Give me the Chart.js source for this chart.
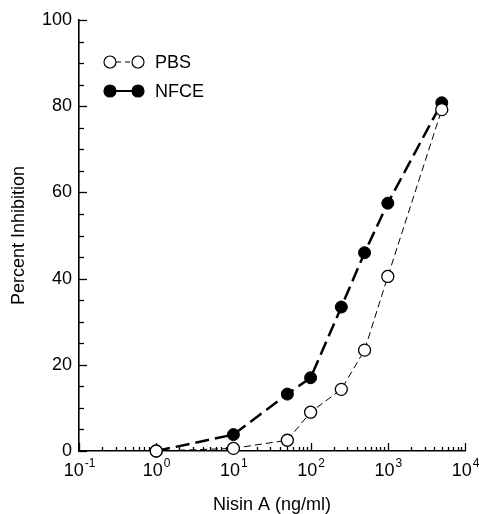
<!DOCTYPE html>
<html>
<head>
<meta charset="utf-8">
<script src="https://cdn.jsdelivr.net/npm/chart.js@4/dist/chart.umd.min.js"></script>
<style>
  body { margin: 0; background: #fff; }
  canvas { display: block; }
</style>
</head>
<body>
<canvas id="chart" width="479" height="514"></canvas>
<script>
// Data
const concentrations = [1, 10, 50, 100, 250, 500, 1000, 5000];
const pbsValues = [0, 0.6, 2.5, 9.0, 14.3, 23.4, 40.5, 79.2];
const nfceValues = [0, 3.8, 13.2, 17.0, 33.4, 46.0, 57.5, 80.8];
const xDecades = [-1, 0, 1, 2, 3, 4];
const yTicks = [0, 20, 40, 60, 80, 100];

const FONT = '"Liberation Sans", Arial, Helvetica, sans-serif';

// inward tick marks, superscript x labels and the little legend
const decorations = {
    id: 'decorations',
    beforeDatasetsDraw(chart) {
        const ctx = chart.ctx;
        const x = chart.scales.x;
        const y = chart.scales.y;
        const area = chart.chartArea;

        ctx.save();
        ctx.strokeStyle = '#000';
        ctx.lineWidth = 1.3;

        // y ticks every 5, longer at labelled values
        for (let v = 0; v <= 100; v += 5) {
            const py = Math.round(y.getPixelForValue(v)) + 0.5;
            const len = yTicks.includes(v) ? 8 : 5;
            ctx.beginPath();
            ctx.moveTo(area.left, py);
            ctx.lineTo(area.left + len, py);
            ctx.stroke();
        }

        // x ticks: decades and 2..9 between
        xDecades.forEach((d, i) => {
            const base = Math.pow(10, d);
            const px = Math.round(x.getPixelForValue(base)) + 0.5;
            ctx.beginPath();
            ctx.moveTo(px, area.bottom);
            ctx.lineTo(px, area.bottom - 8);
            ctx.stroke();
            if (i < xDecades.length - 1) {
                for (let k = 2; k <= 9; k++) {
                    const mx = Math.round(x.getPixelForValue(k * base)) + 0.5;
                    ctx.beginPath();
                    ctx.moveTo(mx, area.bottom);
                    ctx.lineTo(mx, area.bottom - 4);
                    ctx.stroke();
                }
            }
        });
        ctx.restore();
    },
    afterDraw(chart) {
        const ctx = chart.ctx;
        const x = chart.scales.x;
        const area = chart.chartArea;

        ctx.save();
        ctx.strokeStyle = '#000';

        // x labels as 10 with raised exponent
        ctx.fillStyle = '#000';
        ctx.textBaseline = 'alphabetic';
        ctx.textAlign = 'left';
        xDecades.forEach(d => {
            const px = x.getPixelForValue(Math.pow(10, d));
            const exp = String(d);
            ctx.font = '18px ' + FONT;
            const wBase = ctx.measureText('10').width;
            ctx.font = '12px ' + FONT;
            const wExp = ctx.measureText(exp).width;
            const left = px - (wBase + wExp) / 2;
            ctx.font = '18px ' + FONT;
            ctx.fillText('10', left, area.bottom + 25);
            ctx.font = '12px ' + FONT;
            ctx.fillText(exp, left + wBase + 1, area.bottom + 16);
        });

        // legend
        const rows = [
            { label: 'PBS', y: area.top + 42, fill: '#fff', width: 1, dash: [5, 4] },
            { label: 'NFCE', y: area.top + 71, fill: '#000', width: 2, dash: [] }
        ];
        const c1 = area.left + 31, c2 = area.left + 59, r = 6;
        rows.forEach(row => {
            ctx.lineWidth = row.width;
            ctx.setLineDash(row.dash);
            ctx.beginPath();
            ctx.moveTo(c1 + r, row.y);
            ctx.lineTo(c2 - r, row.y);
            ctx.stroke();
            ctx.setLineDash([]);
            ctx.lineWidth = 1.2;
            [c1, c2].forEach(cx => {
                ctx.beginPath();
                ctx.arc(cx, row.y, r, 0, Math.PI * 2);
                ctx.fillStyle = row.fill;
                ctx.fill();
                ctx.stroke();
            });
            ctx.fillStyle = '#000';
            ctx.font = '18px ' + FONT;
            ctx.textBaseline = 'middle';
            ctx.fillText(row.label, area.left + 76, row.y + 1);
        });
        ctx.restore();
    }
};

new Chart(document.getElementById('chart'), {
    type: 'line',
    data: {
        datasets: [
            {
                label: 'PBS',
                data: concentrations.map((c, i) => ({ x: c, y: pbsValues[i] })),
                borderColor: '#000',
                borderWidth: 1,
                borderDash: [7, 4],
                pointRadius: 6,
                pointBackgroundColor: '#fff',
                pointBorderColor: '#000',
                pointBorderWidth: 1.3,
                tension: 0,
                clip: 10
            },
            {
                label: 'NFCE',
                data: concentrations.map((c, i) => ({ x: c, y: nfceValues[i] })),
                borderColor: '#000',
                borderWidth: 2.5,
                borderDash: [14, 6],
                pointRadius: 6,
                pointBackgroundColor: '#000',
                pointBorderColor: '#000',
                pointBorderWidth: 1,
                tension: 0,
                clip: 10
            }
        ]
    },
    options: {
        responsive: false,
        animation: false,
        layout: { padding: { top: 20, right: 14, left: 0, bottom: 0 } },
        plugins: { legend: { display: false }, tooltip: { enabled: false } },
        scales: {
            x: {
                type: 'logarithmic',
                min: 0.1,
                max: 10000,
                grid: { display: false, drawTicks: false },
                border: { display: true, color: '#000', width: 1.6 },
                ticks: { display: false },
                title: {
                    display: true,
                    text: 'Nisin A (ng/ml)',
                    color: '#000',
                    font: { family: FONT, size: 18, lineHeight: 1 },
                    padding: { top: 0, bottom: 0 }
                },
                afterFit(scale) { scale.height = 63; }
            },
            y: {
                min: 0,
                max: 100,
                grid: { display: false, drawTicks: false },
                border: { display: true, color: '#000', width: 1.6 },
                ticks: {
                    stepSize: 20,
                    color: '#000',
                    padding: 7,
                    font: { family: FONT, size: 18 }
                },
                title: {
                    display: true,
                    text: 'Percent Inhibition',
                    color: '#000',
                    font: { family: FONT, size: 18, lineHeight: 1 },
                    padding: { top: 10, bottom: 0 }
                },
                afterFit(scale) { scale.width = 79; }
            }
        }
    },
    plugins: [decorations]
});
</script>
</body>
</html>
